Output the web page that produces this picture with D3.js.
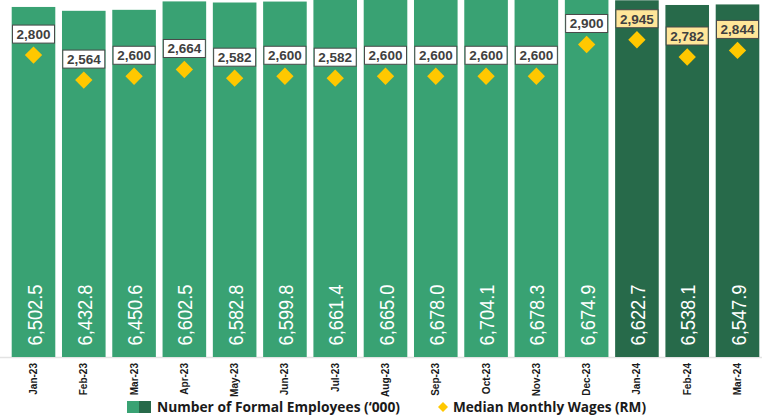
<!DOCTYPE html>
<html>
<head>
<meta charset="utf-8">
<script src="https://cdn.jsdelivr.net/npm/d3@7"></script>
<style>
  body { margin: 0; background: #fff; }
  svg { display: block; }
</style>
</head>
<body>
<script>
// ---- data ----
var months = ['Jan-23', 'Feb-23', 'Mar-23', 'Apr-23', 'May-23', 'Jun-23', 'Jul-23', 'Aug-23',
              'Sep-23', 'Oct-23', 'Nov-23', 'Dec-23', 'Jan-24', 'Feb-24', 'Mar-24'];
var employees = [6502.5, 6432.8, 6450.6, 6602.5, 6582.8, 6599.8, 6661.4, 6665.0,
                 6678.0, 6704.1, 6678.3, 6674.9, 6622.7, 6538.1, 6547.9];
var wages = [2800, 2564, 2600, 2664, 2582, 2600, 2582, 2600, 2600, 2600, 2600, 2900, 2945, 2782, 2844];
var legendLabels = ['Number of Formal Employees (\u2018000)', 'Median Monthly Wages (RM)'];

// ---- layout ----
var W = 762, H = 416;
var baseY = 357;
var col = { light: '#39a273', dark: '#276a4a', gold: '#ffc800', box2024: '#ffe699', text: '#404040' };

var svg = d3.select('body').append('svg').attr('width', W).attr('height', H);

var x = d3.scaleBand().domain(months).range([11.7, 759.3]).paddingInner(0.133).paddingOuter(0);
var yEmp = d3.scaleLinear().domain([180, 6610]).range([baseY, 1]);
var yWage = d3.scaleLinear().domain([-50, 3320]).range([baseY, 0]);

var is2024 = function(m) { return m.slice(-2) === '24'; };

var data = months.map(function(m, i) { return { m: m, emp: employees[i], wage: wages[i] }; });

// baseline
svg.append('line').attr('x1', 0).attr('x2', W).attr('y1', baseY + 0.5).attr('y2', baseY + 0.5)
  .attr('stroke', '#e3e3e3').attr('stroke-width', 1.5);

// bars
svg.append('g').selectAll('rect').data(data).join('rect')
  .attr('x', function(d) { return x(d.m); })
  .attr('width', x.bandwidth())
  .attr('y', function(d) { return yEmp(d.emp); })
  .attr('height', function(d) { return baseY - yEmp(d.emp); })
  .attr('fill', function(d) { return is2024(d.m) ? col.dark : col.light; });

// values inside bars (rotated, narrow look)
svg.append('g').selectAll('text').data(data).join('text')
  .attr('transform', function(d) { return 'translate(' + (x(d.m) + x.bandwidth() / 2 + 0.5) + ',' + 345.5 + ') rotate(-90) scale(0.87,1)'; })
  .attr('dy', '0.36em')
  .attr('fill', '#fff')
  .style('font-family', '"Liberation Sans", Arial, sans-serif')
  .style('font-size', '21px')
  .text(function(d) { return d3.format(',.1f')(d.emp); });

// x axis labels
svg.append('g').selectAll('text').data(months).join('text')
  .attr('transform', function(m) { return 'translate(' + (x(m) + x.bandwidth() / 2) + ',' + 363 + ') rotate(-90)'; })
  .attr('dy', '0.35em')
  .attr('text-anchor', 'end')
  .attr('fill', '#1a1a1a')
  .style('font-family', '"Liberation Sans", Arial, sans-serif')
  .style('font-weight', 'bold')
  .style('font-size', '10px')
  .text(function(m) { return m; });

// wage diamonds
var diamond = d3.symbol().type(d3.symbolSquare).size(150);
svg.append('g').selectAll('path').data(data).join('path')
  .attr('d', diamond)
  .attr('transform', function(d) { return 'translate(' + (x(d.m) + x.bandwidth() / 2) + ',' + yWage(d.wage) + ') rotate(45)'; })
  .attr('fill', col.gold);

// wage label boxes
var lab = svg.append('g').selectAll('g').data(data).join('g')
  .attr('transform', function(d) { return 'translate(' + (x(d.m) + x.bandwidth() / 2) + ',' + (yWage(d.wage) - 21) + ')'; });
lab.append('rect')
  .attr('x', -21).attr('y', -9).attr('width', 42).attr('height', 18)
  .attr('fill', function(d) { return is2024(d.m) ? col.box2024 : '#fff'; })
  .attr('stroke', '#4a4a4a').attr('stroke-width', 1);
lab.append('text')
  .attr('text-anchor', 'middle').attr('dy', '0.36em')
  .attr('fill', col.text)
  .style('font-family', '"Liberation Sans", Arial, sans-serif')
  .style('font-weight', 'bold')
  .style('font-size', '13.5px')
  .text(function(d) { return d3.format(',')(d.wage); });

// legend
var leg = svg.append('g').attr('transform', 'translate(0,407)');
leg.append('rect').attr('x', 127).attr('y', -6).attr('width', 12).attr('height', 12).attr('fill', col.light);
leg.append('rect').attr('x', 139).attr('y', -6).attr('width', 12).attr('height', 12).attr('fill', col.dark);
leg.append('text').attr('x', 157).attr('dy', '0.35em')
  .attr('textLength', 243).attr('lengthAdjust', 'spacingAndGlyphs')
  .attr('fill', '#1a1a1a')
  .style('font-family', '"Open Sans", sans-serif').style('font-weight', 700).style('font-size', '14.5px')
  .text(legendLabels[0]);
leg.append('path').attr('d', d3.symbol().type(d3.symbolSquare).size(50))
  .attr('transform', 'translate(443,0) rotate(45)').attr('fill', col.gold);
leg.append('text').attr('x', 453).attr('dy', '0.35em')
  .attr('textLength', 193).attr('lengthAdjust', 'spacingAndGlyphs')
  .attr('fill', '#1a1a1a')
  .style('font-family', '"Open Sans", sans-serif').style('font-weight', 700).style('font-size', '14.5px')
  .text(legendLabels[1]);
</script>
</body>
</html>
